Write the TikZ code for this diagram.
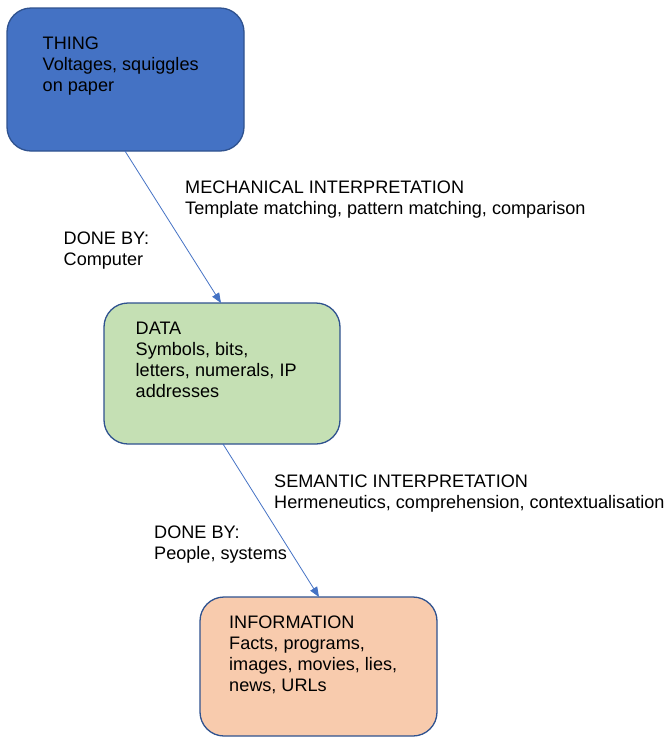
\documentclass[tikz,border=0pt]{standalone}
\usepackage{fontspec}
\setmainfont{Liberation Sans}
\usetikzlibrary{arrows.meta}
\definecolor{thingfill}{HTML}{4472C4}
\definecolor{datafill}{HTML}{C5E0B4}
\definecolor{infofill}{HTML}{F8CBAD}
\definecolor{boxline}{HTML}{2F528F}
\definecolor{arrowcol}{HTML}{4472C4}
\tikzset{
  box/.style={draw=boxline, line width=1.3pt, rounded corners=24pt, inner sep=0pt, outer sep=0pt, anchor=north west},
  txt/.style={anchor=base west, inner sep=0pt, align=left, font=\fontsize{18.1}{21.3}\selectfont},
  arr/.style={draw=arrowcol, line width=0.8pt, -{Triangle[length=10pt,width=8pt]}}
}
\begin{document}
\begin{tikzpicture}[x=1pt,y=-1pt]
\useasboundingbox (0,0) rectangle (664,737);
% boxes
\node[box, fill=thingfill, minimum width=237pt, minimum height=143pt] (thing) at (7,8) {};
\node[box, fill=datafill, minimum width=236pt, minimum height=141pt] (data) at (104,303) {};
\node[box, fill=infofill, minimum width=237pt, minimum height=139pt] (info) at (200,597) {};
% box texts (anchored at the baseline of the last line)
\node[txt] (thingtxt) at (42.5,91.6) {THING\\Voltages, squiggles\\on paper};
\node[txt] (datatxt) at (135.5,397.9) {DATA\\Symbols, bits,\\letters, numerals, IP\\addresses};
\node[txt] (infotxt) at (229,691.9) {INFORMATION\\Facts, programs,\\images, movies, lies,\\news, URLs};
% labels
\node[txt] (mech) at (185,214.3) {MECHANICAL INTERPRETATION\\Template matching, pattern matching, comparison};
\node[txt] (done1) at (63.5,265.3) {DONE BY:\\Computer};
\node[txt] (sem) at (274,508.3) {SEMANTIC INTERPRETATION\\Hermeneutics, comprehension, contextualisation};
\node[txt] (done2) at (154,559.3) {DONE BY:\\People, systems};
% arrows
\draw[arr] ([xshift=118pt]thing.south west) -- ([xshift=117pt]data.north west);
\draw[arr] ([xshift=119pt]data.south west) -- ([xshift=119pt]info.north west);
\end{tikzpicture}
\end{document}
